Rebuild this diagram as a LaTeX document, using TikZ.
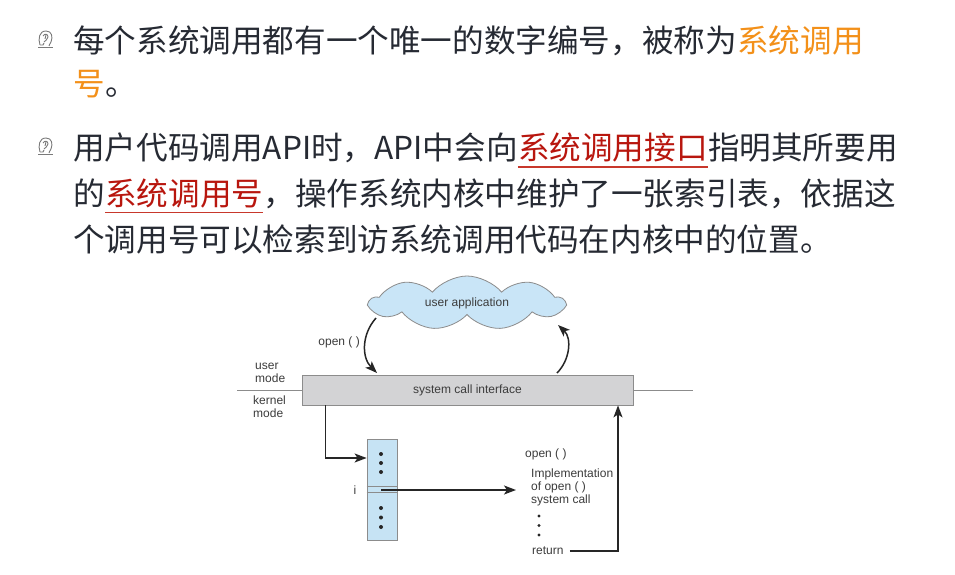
\documentclass[tikz,border=0pt]{standalone}
\usepackage{fontspec}
\setmainfont{Liberation Sans}
\newfontfamily\cjk{Noto Sans CJK SC}
\usetikzlibrary{shapes.symbols,arrows.meta}

\definecolor{bodytext}{HTML}{262A33}
\definecolor{hlorange}{HTML}{F39019}
\definecolor{hlred}{HTML}{B8160E}
\definecolor{ulred}{HTML}{C8382C}
\definecolor{cloudblue}{HTML}{C9E5F7}
\definecolor{tableblue}{HTML}{C6E3F4}
\definecolor{boxgrey}{HTML}{D3D3D5}
\definecolor{edgegrey}{HTML}{8C8C8C}
\definecolor{labelgrey}{HTML}{3C3C3C}
\definecolor{icongrey}{HTML}{7A7A7A}

\tikzset{
  line/.style={font=\cjk\fontsize{31.6}{36}\selectfont, text=bodytext,
    anchor=base west, inner sep=0pt},
  hl/.style={line, text=hlred},
  lbl/.style={font=\fontsize{12}{13}\selectfont, text=labelgrey, inner sep=0pt},
  conn/.style={draw=black!85, line width=1.5pt,
    -{Stealth[length=12pt,width=9pt,inset=3pt]}},
  modeline/.style={draw=edgegrey, line width=0.9pt},
  dot/.style={fill=black!85, draw=none, circle, minimum size=4pt, inner sep=0pt},
  ul/.style={draw=ulred, line width=1.4pt}
}

% small head-shaped bullet glyph
\newcommand{\headicon}[1]{%
  \begin{scope}[shift={#1}, draw=icongrey, line width=0.9pt]
    \draw (-5,6) .. controls (-7,0) and (-6,-8) .. (1,-8)
          .. controls (7,-8) and (8,-2) .. (6,3)
          .. controls (5,5) and (4,6) .. (4,7);
    \draw (-5,6) -- (-2,6) -- (-1,4);
    \draw (-2,-3) .. controls (0,-6) and (3,-5) .. (3,-2)
          .. controls (3,1) and (0,1) .. (-1,3);
    \draw (1,-4) -- (0,0);
    \draw (-7,8.5) -- (8,8.5);
  \end{scope}}

\begin{document}
\begin{tikzpicture}[x=1pt,y=-1pt]
\useasboundingbox (0,0) rectangle (955,575);
\fill[white] (0,0) rectangle (955,575);

% ---- first bullet ----
\headicon{(45,39)}
\node[line] (a1) at (73,52.5) {每个系统调用都有一个唯一的数字编号，被称为};
\node[line, text=hlorange] (a2) at (a1.base east) {系统调用};
\node[line, text=hlorange] (a3) at (73,96) {号};
\node[line] (a4) at (a3.base east) {。};

% ---- second bullet ----
\headicon{(45,146)}
\node[line] (b1) at (73,159.5) {用户代码调用API时，API中会向};
\node[hl] (b2) at (b1.base east) {系统调用接口};
\node[line] (b3) at (b2.base east) {指明其所要用};
\draw[ul] (b2.base west) ++(0,7.5) -- ([yshift=-7.5pt]b2.base east);

\node[line] (c1) at (73,205.5) {的};
\node[hl] (c2) at (c1.base east) {系统调用号};
\node[line] (c3) at (c2.base east) {，操作系统内核中维护了一张索引表，依据这};
\draw[ul] (c2.base west) ++(0,7) -- ([yshift=-7pt]c2.base east);

\node[line] (d1) at (73,251.5) {个调用号可以检索到访系统调用代码在内核中的位置。};

% ---- system call diagram ----
\node[cloud, cloud puffs=9, cloud puff arc=100, cloud ignores aspect,
      minimum width=194pt, minimum height=54pt, draw=edgegrey, fill=cloudblue,
      line width=0.8pt, inner sep=0pt, font=\fontsize{12}{13}\selectfont,
      text=labelgrey] (app) at (467,303) {user application};

\node[draw=edgegrey, fill=boxgrey, line width=0.8pt, minimum width=331pt,
      minimum height=30pt, inner sep=0pt, font=\fontsize{12}{13}\selectfont,
      text=labelgrey] (sci) at (467.5,390) {system call interface};

\coordinate (modeL) at (237,390);
\coordinate (modeR) at (693,390);
\draw[modeline] (modeL) -- (sci.west);
\draw[modeline] (sci.east) -- (modeR);

\node[lbl, align=left, anchor=south west] (um) at (255,383) {user\\mode};
\node[lbl, align=left, anchor=north west] (km) at (253,396) {kernel\\mode};

% call from the application into the interface
\coordinate (callA) at (376,318);
\coordinate (callB) at (377,373);
\draw[conn] (callA) .. controls (361,335) and (362,358) .. (callB);
\node[lbl, anchor=east] (op1) at (360,342) {open ( )};

% return to the application
\coordinate (backA) at (557,373);
\coordinate (backB) at (558,325);
\draw[conn] (backA) .. controls (570,360) and (572,338) .. (backB);

% system call table
\node[draw=edgegrey, fill=tableblue, line width=0.8pt, minimum width=30pt,
      minimum height=101pt, inner sep=0pt] (tbl) at (382,489.5) {};
\draw[draw=edgegrey, line width=0.8pt] (tbl.west |- 0,486.5) -- (tbl.east |- 0,486.5);
\draw[draw=edgegrey, line width=0.8pt] (tbl.west |- 0,492.5) -- (tbl.east |- 0,492.5);
\foreach \yy in {454,463,472,508,517.5,527}
  \node[dot] at (381,\yy) {};
\node[lbl, anchor=center] (idx) at (355,490) {i};

\coordinate (dn) at (325.5,0);
\draw[conn] (sci.south -| dn) |- (tbl.west |- 0,458);

% implementation of open()
\node[lbl, anchor=west] (op2) at (525,454) {open ( )};
\node[lbl, anchor=north west, align=left] (impl) at (531,469)
  {Implementation\\of open ( )\\system call};
\foreach \yy in {516,525.5,535}
  \node[dot, minimum size=3.4pt] at (539,\yy) {};
\node[lbl, anchor=west] (ret) at (532,551) {return};

\coordinate (rowi) at (381,490);
\coordinate (impIn) at (516,490);
\draw[conn] (rowi) -- (impIn);

\coordinate (retx) at (618,0);
\draw[conn] ([xshift=6pt]ret.east) -| (sci.south -| retx);
\end{tikzpicture}
\end{document}
